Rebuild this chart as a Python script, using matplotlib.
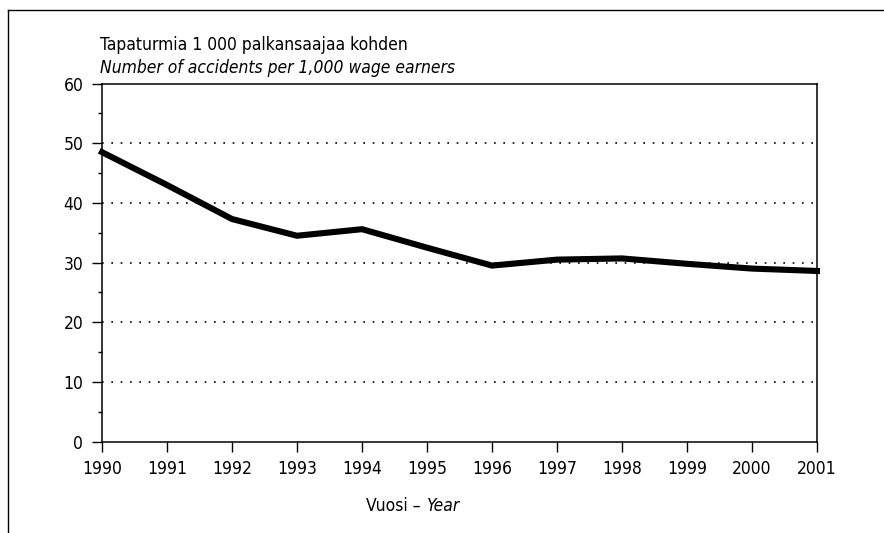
import matplotlib
matplotlib.use("Agg")
import matplotlib.pyplot as plt
from matplotlib.lines import Line2D
from matplotlib.ticker import MultipleLocator

# accidents per 1 000 wage earners
years = [1990, 1991, 1992, 1993, 1994, 1995, 1996, 1997, 1998, 1999, 2000, 2001]
rate = [48.5, 43.0, 37.3, 34.5, 35.6, 32.5, 29.5, 30.5, 30.7, 29.8, 29.0, 28.6]

title_fi = "Tapaturmia 1 000 palkansaajaa kohden"
title_en = "Number of accidents per 1,000 wage earners"

plt.rcParams['font.family'] = ['DejaVu Sans']
plt.rcParams['font.stretch'] = 'condensed'
plt.rcParams['font.size'] = 12.5

fig = plt.figure(figsize=(8.84, 5.33), dpi=100)
ax = fig.add_axes([0.1154, 0.1713, 0.8088, 0.672])

ax.plot(years, rate, color="black", lw=4.4, solid_joinstyle="round", clip_on=False, zorder=3)

ax.set_xlim(1990, 2001)
ax.set_ylim(0, 60)
ax.set_xticks(years)
ax.yaxis.set_major_locator(MultipleLocator(10))
ax.yaxis.set_minor_locator(MultipleLocator(5))

for y in range(10, 60, 10):
    ax.axhline(y, color="black", lw=1.2, ls=(0, (1, 4.6)), zorder=1)

for s in ax.spines.values():
    s.set_linewidth(1.1)
ax.tick_params(axis="both", which="major", direction="out", length=7.5, width=1.0, pad=6, labelsize=12.5)
ax.tick_params(axis="y", which="minor", direction="out", length=3, width=1.0)

fig.text(0.4815, 0.05, "Vuosi – ", ha="right", va="center", fontsize=12.5)
fig.text(0.4815, 0.05, "Year", ha="left", va="center", fontsize=12.5, style="italic")

fig.text(0.113, 0.906, title_fi, ha="left", va="baseline", fontsize=12.5)
fig.text(0.113, 0.863, title_en, ha="left", va="baseline", fontsize=12.5, style="italic")

# outer frame of the printed figure
fig.add_artist(Line2D([0.009, 1.0], [0.981, 0.981], color="black", lw=1.0))
fig.add_artist(Line2D([0.009, 0.009], [0.0, 0.981], color="black", lw=1.0))

fig.savefig("out.png", dpi=100)
